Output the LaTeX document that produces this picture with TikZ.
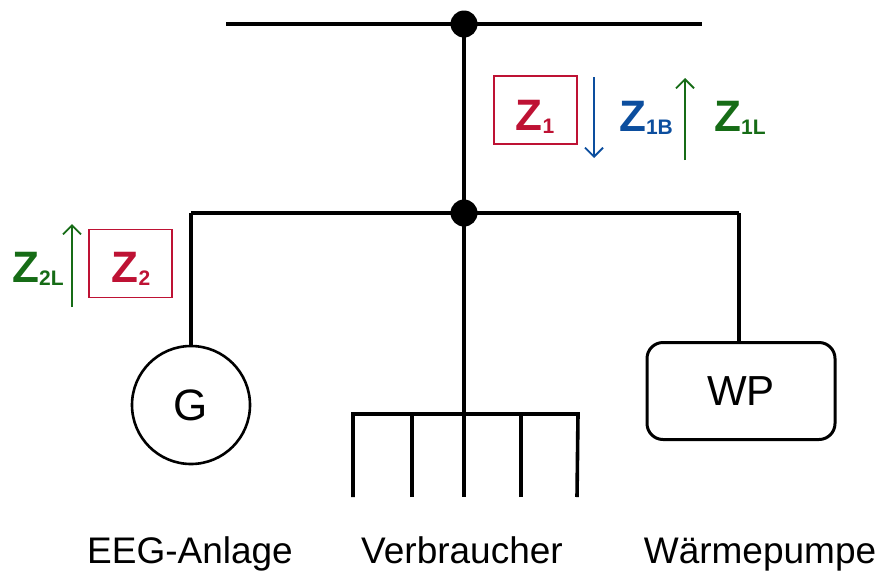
\documentclass[tikz,border=0pt]{standalone}
\usepackage{fontspec}
\setmainfont{Liberation Sans}
\usetikzlibrary{arrows.meta}
\definecolor{zred}{RGB}{190,18,52}
\definecolor{zblue}{RGB}{12,78,158}
\definecolor{zgreen}{RGB}{22,108,22}
\newcommand{\zsub}[1]{\raisebox{-3pt}{\fontsize{21}{21}\selectfont #1}}
\begin{document}
\begin{tikzpicture}[x=1pt,y=-1pt,
  wire/.style={line width=3.6pt},
  dotnode/.style={circle,fill=black,inner sep=0pt,minimum size=27pt},
  zbox/.style={draw=zred,line width=1.6pt,minimum width=83pt,minimum height=68pt,inner sep=0pt},
  zlab/.style={font=\fontsize{44}{46}\selectfont\bfseries,inner sep=0pt,anchor=base},
  flow/.style={line width=1.8pt,-{Straight Barb[length=9pt,width=18pt]}},
  caption/.style={font=\fontsize{37}{40}\selectfont,inner sep=0pt,anchor=base}]
\useasboundingbox (0,0) rectangle (880,576);
% buses
\coordinate (t1) at (226,24);
\coordinate (t2) at (702,24);
\node[dotnode] (d1) at (464,24) {};
\node[dotnode] (d2) at (464,213) {};
\coordinate (b1) at (191,213);
\coordinate (b2) at (739,213);
\draw[wire] (t1) -- (t2);
\draw[wire] (d1.center) -- (d2.center);
\draw[wire] (b1) -- (b2);
% generator
\node[draw,circle,line width=2.6pt,minimum size=118pt,inner sep=0pt,font=\fontsize{44}{44}\selectfont] (G) at (191,405) {G};
\draw[wire] (b1) -- (G.north);
% heat pump
\node[draw,rounded corners=16pt,line width=3pt,minimum width=188pt,minimum height=97pt,inner sep=0pt,font=\fontsize{42}{42}\selectfont] (WP) at (741,391) {WP};
\draw[wire] (b2) -- (WP.north -| b2);
% consumers
\coordinate (v0) at (464,414);
\coordinate (va) at (353,414);
\coordinate (ve) at (578,414);
\coordinate (fa) at (353,497);
\coordinate (fb) at (412,497);
\coordinate (fc) at (464,497);
\coordinate (fd) at (521,497);
\coordinate (fe) at (577,497);
\draw[wire] (d2.center) -- (fc);
\draw[wire] (fa) -- (va) -- (ve) -- (fe);
\draw[wire] (fb) -- (fb |- v0);
\draw[wire] (fd) -- (fd |- v0);
% Z1
\node[zbox] (z1) at (535.5,110) {};
\node[zlab,text=zred] (z1t) at (535,130) {Z\zsub{1}};
\coordinate (a1s) at (594,77);
\coordinate (a1e) at (594,158);
\draw[flow,zblue] (a1s) -- (a1e);
\node[zlab,text=zblue] (z1b) at (646,131) {Z\zsub{1B}};
\coordinate (a2s) at (685,160);
\coordinate (a2e) at (685,78);
\draw[flow,zgreen] (a2s) -- (a2e);
\node[zlab,text=zgreen] (z1l) at (740,131) {Z\zsub{1L}};
% Z2
\node[zbox] (z2) at (130.5,263.5) {};
\node[zlab,text=zred] (z2t) at (131,282) {Z\zsub{2}};
\coordinate (a3s) at (72,307);
\coordinate (a3e) at (72,224);
\draw[flow,zgreen] (a3s) -- (a3e);
\node[zlab,text=zgreen] (z2l) at (38,282) {Z\zsub{2L}};
% captions
\node[caption] (c1) at (190,563) {EEG-Anlage};
\node[caption] (c2) at (462,563) {Verbraucher};
\node[caption] (c3) at (760,563) {Wärmepumpe};
\end{tikzpicture}
\end{document}
